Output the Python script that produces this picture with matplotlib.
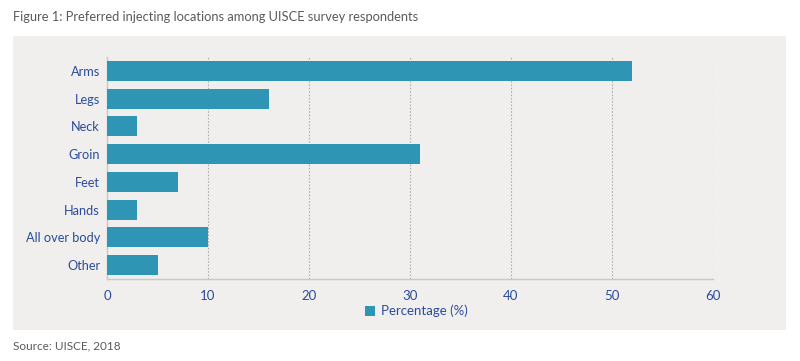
import matplotlib.pyplot as plt
from matplotlib.patches import Rectangle, Patch

plt.rcParams['font.family'] = ['Lato', 'DejaVu Sans']

locations = ["Arms", "Legs", "Neck", "Groin", "Feet", "Hands", "All over body", "Other"]
percentages = [52, 16, 3, 31, 7, 3, 10, 5]
x_ticks = [0, 10, 20, 30, 40, 50, 60]

bar_color = "#2e96b4"
text_color = "#2b4c9b"

fig = plt.figure(figsize=(8, 3.61), dpi=100)
fig.patches.append(Rectangle((13 / 800, 1 - 330 / 361), 773 / 800, 294 / 361,
                             transform=fig.transFigure, facecolor="#f0efee",
                             edgecolor="none", zorder=-5))

ax = fig.add_axes([107 / 800, 1 - 279 / 361, 606 / 800, 222 / 361])
ax.set_facecolor("none")
ax.barh(range(len(locations)), percentages, height=0.72, color=bar_color, zorder=3)

ax.set_xlim(0, 60)
ax.set_ylim(7.5, -0.5)
ax.set_xticks(x_ticks)
ax.set_yticks(range(len(locations)))
ax.set_yticklabels(locations)
ax.tick_params(axis="both", length=0, colors=text_color, labelsize=9.5)
ax.tick_params(axis="y", labelsize=9.2, pad=5)
ax.tick_params(axis="x", pad=8)

ax.grid(axis="x", linestyle=(0, (1.5, 1.5)), color="#b0b0b0", linewidth=0.8, zorder=1)
for s in ["top", "right"]:
    ax.spines[s].set_visible(False)
for s in ["left", "bottom"]:
    ax.spines[s].set_color("#c8c8c8")
    ax.spines[s].set_linewidth(1)

handle = Patch(facecolor=bar_color, edgecolor="none")
fig.legend([handle], ["Percentage (%)"], loc="center", bbox_to_anchor=(416 / 800, 1 - 311 / 361),
           frameon=False, fontsize=9.5, handlelength=0.8, handleheight=0.8,
           handletextpad=0.4, labelcolor=text_color)

fig.text(13 / 800, 1 - 17 / 361, "Figure 1: Preferred injecting locations among UISCE survey respondents",
         fontsize=9.3, color="#5a5a5a", va="center", ha="left")
fig.text(13 / 800, 1 - 346 / 361, "Source: UISCE, 2018",
         fontsize=8.5, color="#5a5a5a", va="center", ha="left")

fig.savefig("out.png", dpi=100)
